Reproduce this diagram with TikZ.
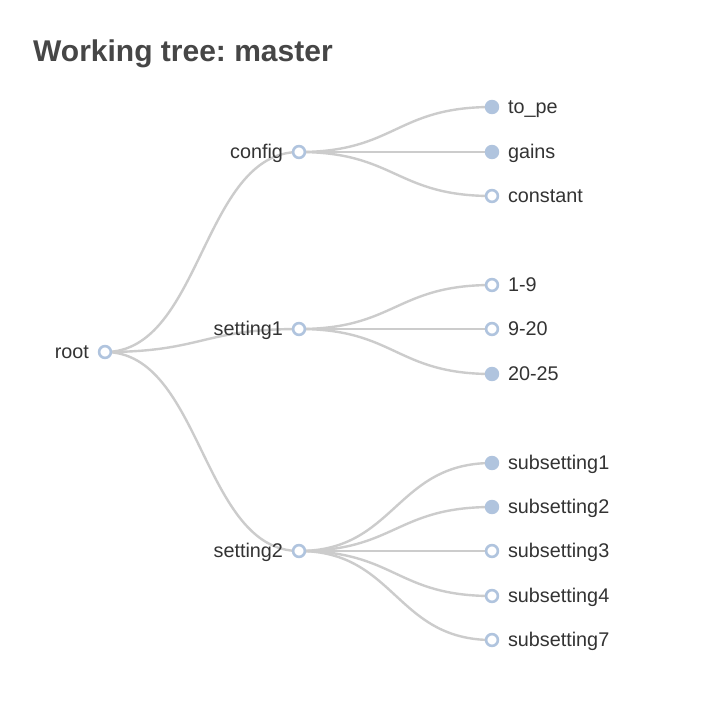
\documentclass[tikz,border=0pt]{standalone}
\usepackage{fontspec}
\setmainfont{Liberation Sans}
\usetikzlibrary{backgrounds,calc}
\frenchspacing
\definecolor{nodeblue}{HTML}{B0C4DE}
\definecolor{edgegray}{HTML}{CCCCCC}
\definecolor{labelgray}{HTML}{333333}
\definecolor{titlegray}{HTML}{464646}
\tikzset{
  treept/.style={circle, draw=nodeblue, line width=2.6pt, minimum size=11.8pt, inner sep=0pt, outer sep=0pt},
  openpt/.style={treept, fill=white},
  fullpt/.style={treept, fill=nodeblue},
  lbl/.style={inner sep=0pt, outer sep=0pt, text=labelgray, font=\fontsize{19.8}{20}\selectfont},
  rlbl/.style={lbl, anchor=base west},
  llbl/.style={lbl, anchor=base east},
  edge/.style={draw=edgegray, line width=2.4pt},
  curved/.style={to path={let \p1=(\tikztostart), \p2=(\tikztotarget) in
     .. controls ({(\x1+\x2)/2},\y1) and ({(\x1+\x2)/2},\y2) .. (\tikztotarget)}}
}
\begin{document}
\begin{tikzpicture}[x=1pt,y=-1pt]
\useasboundingbox (0,0) rectangle (718,718);
% title
\node[anchor=base west, inner sep=0pt, text=titlegray, font=\fontsize{30}{31}\selectfont\bfseries] (title) at (33,61) {Working tree: master};
% tree points
\node[openpt] (root) at (105,352) {};
\node[openpt] (config) at (299,152) {};
\node[openpt] (s1) at (299,329) {};
\node[openpt] (s2) at (299,551) {};
\node[fullpt] (tope) at (492,107) {};
\node[fullpt] (gains) at (492,152) {};
\node[openpt] (const) at (492,196) {};
\node[openpt] (a19) at (492,285) {};
\node[openpt] (a920) at (492,329) {};
\node[fullpt] (a2025) at (492,374) {};
\node[fullpt] (ss1) at (492,463) {};
\node[fullpt] (ss2) at (492,507) {};
\node[openpt] (ss3) at (492,551) {};
\node[openpt] (ss4) at (492,596) {};
\node[openpt] (ss7) at (492,640) {};
% labels
\node[llbl] (lroot) at ($(root.center)+(-16,6.8)$) {root};
\node[llbl] (lconfig) at ($(config.center)+(-16,6.8)$) {config};
\node[llbl] (ls1) at ($(s1.center)+(-16,6.8)$) {setting1};
\node[llbl] (ls2) at ($(s2.center)+(-16,6.8)$) {setting2};
\node[rlbl] (ltope) at ($(tope.center)+(16,6.8)$) {to\_pe};
\node[rlbl] (lgains) at ($(gains.center)+(16,6.8)$) {gains};
\node[rlbl] (lconst) at ($(const.center)+(16,6.8)$) {constant};
\node[rlbl] (la19) at ($(a19.center)+(16,6.8)$) {1-9};
\node[rlbl] (la920) at ($(a920.center)+(16,6.8)$) {9-20};
\node[rlbl] (la2025) at ($(a2025.center)+(16,6.8)$) {20-25};
\node[rlbl] (lss1) at ($(ss1.center)+(16,6.8)$) {subsetting1};
\node[rlbl] (lss2) at ($(ss2.center)+(16,6.8)$) {subsetting2};
\node[rlbl] (lss3) at ($(ss3.center)+(16,6.8)$) {subsetting3};
\node[rlbl] (lss4) at ($(ss4.center)+(16,6.8)$) {subsetting4};
\node[rlbl] (lss7) at ($(ss7.center)+(16,6.8)$) {subsetting7};
% edges
\begin{scope}[on background layer]
\fill[white] (0,0) rectangle (718,718);
\foreach \a/\b in {root/config, root/s1, root/s2,
   config/tope, config/gains, config/const,
   s1/a19, s1/a920, s1/a2025,
   s2/ss1, s2/ss2, s2/ss3, s2/ss4, s2/ss7}
  \draw[edge] (\a.center) to[curved] (\b.center);
\end{scope}
\end{tikzpicture}
\end{document}
